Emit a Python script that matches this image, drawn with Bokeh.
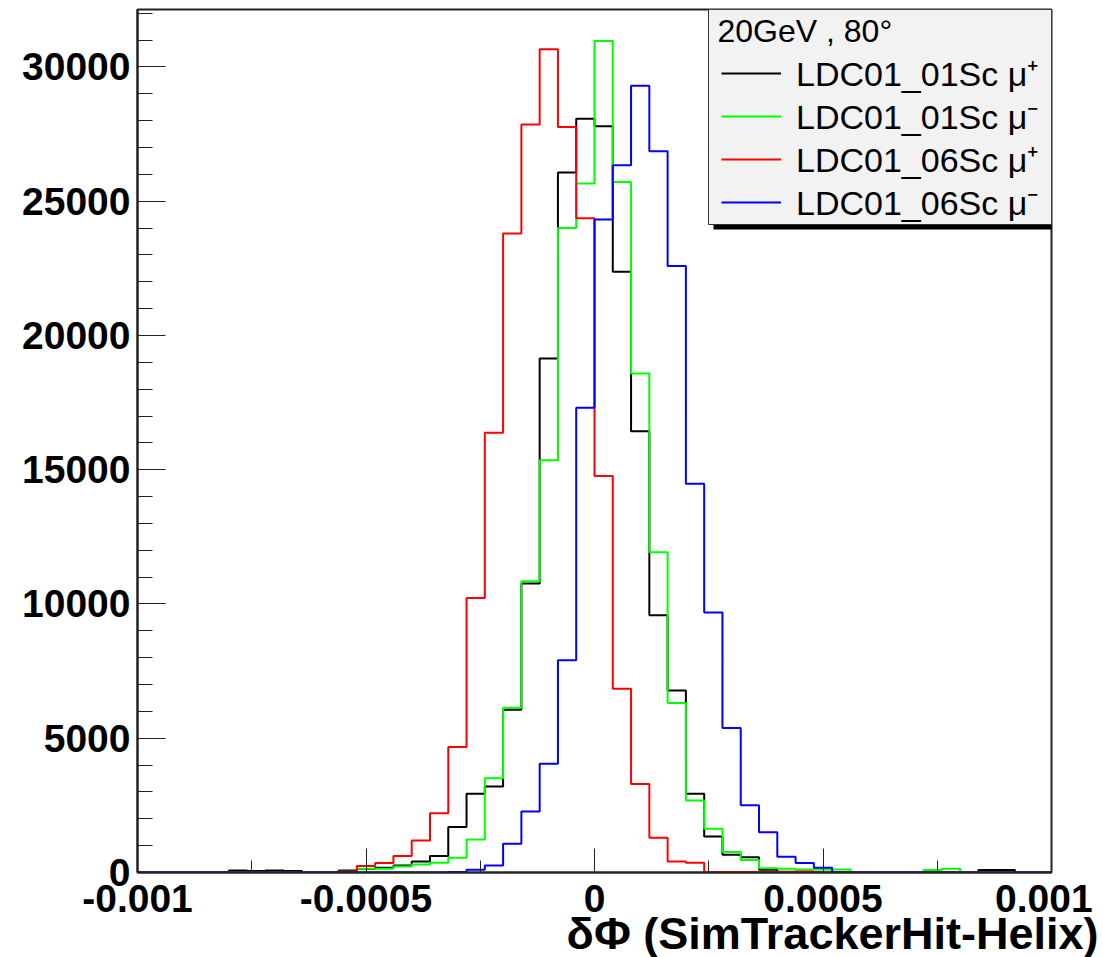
import numpy as np
from bokeh.plotting import figure
from bokeh.models import (Range1d, FixedTicker, Legend, LegendItem, Title,
                          BoxAnnotation, Label)
from bokeh.embed import file_html
from bokeh.resources import INLINE

# ---------------- data ----------------
XMIN, XMAX = -0.001, 0.001
NBINS = 50
YMAX = 32140

XTICKS = [-0.001, -0.0005, 0.0, 0.0005, 0.001]
XTICK_LABELS = ["-0.001", "-0.0005", "0", "0.0005", "0.001\u00a0"]
XMINOR = [-0.00075, -0.00025, 0.00025, 0.00075]
YTICKS = [0, 5000, 10000, 15000, 20000, 25000, 30000]
YMINOR = [v for v in range(0, 33000, 1000) if v % 5000 != 0]

X_TITLE = "\u03b4\u03a6 (SimTrackerHit-Helix)"
LEGEND_TITLE = "20GeV , 80\u00b0"
LABELS = ["LDC01_01Sc \u03bc\u207a", "LDC01_01Sc \u03bc\u207b",
          "LDC01_06Sc \u03bc\u207a", "LDC01_06Sc \u03bc\u207b"]
COLORS = ["#000000", "#00ff00", "#ff0000", "#0000ff"]

# counts per bin (50 bins from -0.001 to 0.001)
ldc01_mup = [0, 0, 0, 0, 0, 70, 60, 70, 60, 0,
             0, 70, 130, 180, 260, 410, 610, 1690, 2930, 3200,
             6060, 10760, 19140, 26070, 28070, 27790, 22370, 16430, 9580, 6780,
             2930, 1340, 660, 570, 100, 30, 0, 0, 0, 0,
             0, 0, 0, 0, 0, 0, 90, 90, 0, 0]
ldc01_mum = [0, 0, 0, 0, 0, 0, 0, 0, 0, 0,
             0, 30, 140, 140, 220, 300, 360, 550, 1230, 3510,
             6140, 10850, 15350, 24000, 25660, 30970, 25720, 18580, 11930, 6310,
             2680, 1630, 760, 470, 160, 140, 110, 110, 110, 0,
             0, 0, 0, 90, 140, 0, 0, 0, 0, 0]
ldc06_mup = [0, 0, 0, 0, 0, 0, 0, 0, 0, 0,
             0, 30, 240, 350, 610, 1195, 2210, 4670, 10220, 16380,
             23800, 27860, 30660, 27760, 24370, 14770, 6840, 3300, 1290, 410,
             360, 20, 20, 20, 20, 20, 40, 0, 0, 0,
             0, 0, 0, 0, 0, 0, 0, 0, 0, 0]
ldc06_mum = [0, 0, 0, 0, 0, 0, 0, 0, 0, 0,
             0, 0, 0, 0, 0, 0, 0, 15, 100, 260,
             1070, 2270, 4050, 7900, 17310, 24320, 26340, 29300, 26860, 22590,
             14480, 9680, 5380, 2500, 1500, 590, 350, 180, 0, 0,
             0, 0, 0, 0, 0, 0, 0, 0, 0, 0]
SERIES = [ldc01_mup, ldc01_mum, ldc06_mup, ldc06_mum]

# ---------------- figure ----------------
FONT = "Liberation Sans"
p = figure(width=1103, height=957,
           x_range=Range1d(XMIN, XMAX), y_range=Range1d(0, YMAX),
           output_backend="svg", toolbar_location=None,
           min_border_left=137, min_border_right=52,
           min_border_top=9, min_border_bottom=85)
p.grid.visible = False
p.background_fill_color = "white"
p.border_fill_color = "white"
p.outline_line_color = "#222222"
p.outline_line_width = 2

edges = np.linspace(XMIN, XMAX, NBINS + 1)
renderers = []
for vals, color in zip(SERIES, COLORS):
    yy = list(vals) + [vals[-1]]
    r = p.step(x=edges, y=yy, mode="after", line_color=color, line_width=2)
    renderers.append(r)

# axes
p.xaxis.ticker = FixedTicker(ticks=XTICKS, minor_ticks=XMINOR)
p.xaxis.major_label_overrides = {t: s for t, s in zip(XTICKS, XTICK_LABELS)}
p.yaxis.ticker = FixedTicker(ticks=YTICKS, minor_ticks=YMINOR)
for ax in (p.xaxis, p.yaxis):
    ax.axis_line_color = "#222222"
    ax.axis_line_width = 2
    ax.major_tick_line_color = "#222222"
    ax.minor_tick_line_color = "#222222"
    ax.major_tick_out = 0
    ax.minor_tick_out = 0
    ax.major_label_text_font = FONT
    ax.major_label_text_font_style = "bold"
    ax.major_label_text_font_size = "39px"
    ax.major_label_text_color = "black"
p.xaxis.major_tick_in = 24
p.xaxis.minor_tick_in = 12
p.yaxis.major_tick_in = 28
p.yaxis.minor_tick_in = 15
p.xaxis.major_label_standoff = 4
p.yaxis.major_label_standoff = 7

# x-axis title, right aligned below the axis
p.add_layout(Title(text=X_TITLE, align="right", vertical_align="top",
                   offset=-47, standoff=-30,
                   text_font=FONT, text_font_style="bold",
                   text_font_size="45px", text_color="black"), "below")

# ---------------- legend box (ROOT style, with shadow) ----------------
fw, fh = 914, 863          # frame size in px
LW, LH = 343, 215          # legend box size in px
SH = 5                     # shadow offset
box_l, box_r, box_t, box_b = fw - LW, fw, fh, fh - LH
p.add_layout(BoxAnnotation(left=box_l + SH, right=box_r + SH, top=box_t - SH, bottom=box_b - SH,
                           left_units="screen", right_units="screen",
                           top_units="screen", bottom_units="screen",
                           fill_color="black", fill_alpha=1.0, line_color=None))
p.add_layout(BoxAnnotation(left=box_l, right=box_r, top=box_t, bottom=box_b,
                           left_units="screen", right_units="screen",
                           top_units="screen", bottom_units="screen",
                           fill_color="#f2f2f2", fill_alpha=1.0,
                           line_color="#333333", line_width=1, line_alpha=1.0))
p.add_layout(Label(x=box_l + 9, y=box_t - 21, x_units="screen", y_units="screen",
                   text=LEGEND_TITLE, text_align="left", text_baseline="alphabetic",
                   text_font=FONT, text_font_size="32px", text_color="black"))

ROW_H = 43
ITEM_H = 46                # measured height of one legend entry
for i, (lab, r) in enumerate(zip(LABELS, renderers)):
    center_from_top = 64 + i * ROW_H
    loc = (box_l + 13, fh - center_from_top - ITEM_H / 2)
    lg = Legend(items=[LegendItem(label=lab, renderers=[r])], location=loc,
                label_text_font=FONT, label_text_font_size="34px",
                label_text_color="black",
                padding=0, spacing=0, margin=0,
                glyph_width=60, glyph_height=20, label_height=20,
                label_standoff=15,
                background_fill_alpha=0.0, border_line_color=None)
    p.add_layout(lg)

open("out.html", "w").write(file_html(p, INLINE))
